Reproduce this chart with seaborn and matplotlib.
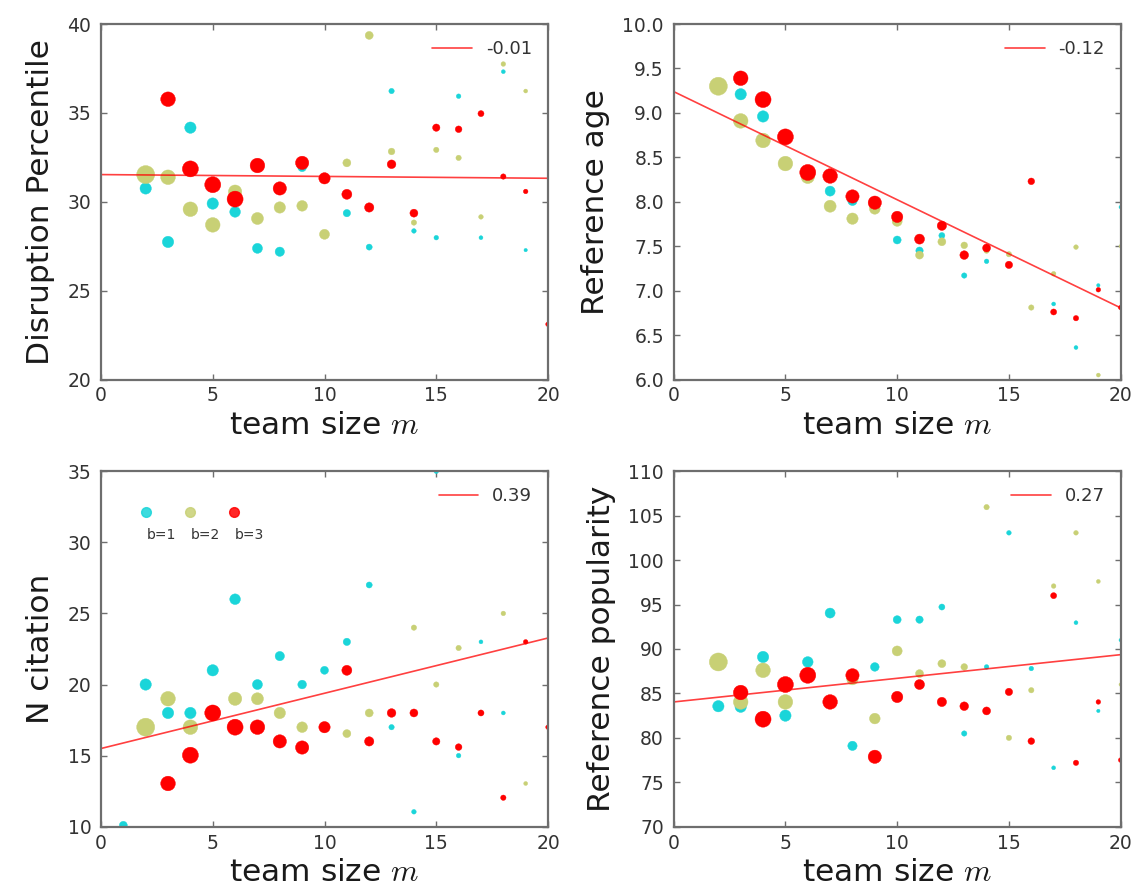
import numpy as np
import pandas as pd
import matplotlib
matplotlib.use("Agg")
import matplotlib.pyplot as plt
from matplotlib.lines import Line2D
import seaborn as sns

nan = np.nan

# ---------------- data ----------------
team_size = list(range(1, 21))
group_labels = ["b=1", "b=2", "b=3"]
group_colors = ["#1ad5d9", "#c8d075", "#ff0000"]

# relative number of papers in each (m, b) group (drives marker area)
n_papers_b1 = [33, 67, 67, 67, 67, 59, 52, 45, 39, 33, 28, 19, 15, 11, 11, 11, 8, 8, 6, 6]
n_papers_b2 = [0, 168, 111, 111, 111, 92, 75, 67, 59, 52, 33, 33, 23, 15, 15, 15, 11, 11, 8, 6]
n_papers_b3 = [0, 0, 111, 133, 133, 133, 111, 92, 92, 67, 52, 45, 39, 33, 28, 23, 19, 15, 11, 11]

disruption_b1 = [nan, 30.75, 27.74, 34.17, 29.9, 29.43, 27.38, 27.19, 31.94, 31.3,
                 29.36, 27.45, 36.23, 28.36, 27.98, 35.94, 27.98, 37.32, 27.28, nan]
disruption_b2 = [nan, 31.53, 31.38, 29.58, 28.70, 30.57, 29.06, 29.68, 29.77, 28.17,
                 32.19, 39.36, 32.83, 28.83, 32.92, 32.47, 29.15, 37.75, 36.23, nan]
disruption_b3 = [nan, nan, 35.77, 31.85, 30.96, 30.15, 32.04, 30.75, 32.19, 31.32,
                 30.42, 29.68, 32.11, 29.36, 34.17, 34.08, 34.96, 31.42, 30.58, 23.11]

ref_age_b1 = [nan, 9.30, 9.21, 8.96, 8.72, 8.30, 8.12, 8.01, 7.95, 7.57,
              7.45, 7.62, 7.17, 7.33, 7.29, nan, 6.85, 6.36, 7.06, 7.94]
ref_age_b2 = [nan, 9.30, 8.91, 8.69, 8.43, 8.28, 7.95, 7.81, 7.92, 7.78,
              7.40, 7.55, 7.51, 7.45, 7.41, 6.81, 7.19, 7.49, 6.05, 7.50]
ref_age_b3 = [nan, nan, 9.39, 9.15, 8.73, 8.33, 8.29, 8.06, 7.99, 7.83,
              7.58, 7.73, 7.40, 7.48, 7.29, 8.23, 6.76, 6.69, 7.01, 6.81]

citation_b1 = [10.1, 20.0, 18.0, 18.0, 21.0, 26.0, 20.0, 22.0, 20.0, 21.0,
               23.0, 27.0, 17.0, 11.05, 35.0, 15.0, 23.0, 18.0, nan, nan]
citation_b2 = [nan, 17.0, 19.0, 17.0, 18.0, 19.0, 19.0, 18.0, 17.0, 17.0,
               16.55, 18.0, 18.0, 24.0, 20.0, 22.57, 18.0, 25.0, 13.04, nan]
citation_b3 = [nan, nan, 13.04, 15.03, 18.0, 17.0, 17.0, 16.0, 15.57, 17.0,
               21.0, 16.0, 18.0, 18.0, 16.0, 15.6, 18.0, 12.04, 23.0, 17.0]

popularity_b1 = [nan, 83.56, 83.5, 89.1, 82.5, 88.54, 94.04, 79.1, 87.98, 93.3,
                 93.3, 94.72, 80.49, 87.98, 103.07, 87.8, 76.63, 92.96, 83.03, 91.0]
popularity_b2 = [nan, 88.54, 84.04, 87.6, 84.04, 87.0, 84.0, 86.6, 82.17, 89.78,
                 87.23, 88.35, 87.98, 105.96, 80.0, 85.36, 97.08, 103.07, 97.6, 86.0]
popularity_b3 = [nan, nan, 85.1, 82.1, 86.0, 87.04, 84.04, 87.04, 77.87, 84.6,
                 86.0, 84.04, 83.56, 83.03, 85.17, 79.63, 96.0, 77.19, 84.04, 77.5]

panel_ylabels = ["Disruption Percentile", "Reference age", "N citation", "Reference popularity"]
panel_series = [
    [disruption_b1, disruption_b2, disruption_b3],
    [ref_age_b1, ref_age_b2, ref_age_b3],
    [citation_b1, citation_b2, citation_b3],
    [popularity_b1, popularity_b2, popularity_b3],
]
panel_ylims = [(20, 40), (6, 10), (10, 35), (70, 110)]
panel_yticks = [np.arange(20, 41, 5), np.arange(6, 10.01, 0.5),
                np.arange(10, 36, 5), np.arange(70, 111, 5)]
panel_yfmt = ["{:.0f}", "{:.1f}", "{:.0f}", "{:.0f}"]
fit_intercept = [31.53, 9.24, 15.50, 84.04]
fit_slope = [-0.0104, -0.1217, 0.3886, 0.2660]
x_ticks = [0, 5, 10, 15, 20]
x_lim = (0, 20)

n_papers = [n_papers_b1, n_papers_b2, n_papers_b3]

# ---------------- style ----------------
sns.set_style("white", {"xtick.direction": "in", "ytick.direction": "in"})
plt.rcParams["font.family"] = ["DejaVu Sans"]
plt.rcParams["mathtext.fontset"] = "cm"

frame_color = "#6e6e6e"

fig, axes = plt.subplots(2, 2, figsize=(11.41, 8.90), dpi=100)
fig.subplots_adjust(left=0.0885, right=0.9822, top=0.973, bottom=0.0711,
                    wspace=0.281, hspace=0.258)

size_lo, size_hi = 0, 168

for k, ax in enumerate(axes.flat):
    rows = []
    for g in range(3):
        for m, v, n in zip(team_size, panel_series[k][g], n_papers[g]):
            rows.append({"m": m, "value": v, "b": group_labels[g], "n": n})
    df = pd.DataFrame(rows)
    sns.scatterplot(data=df, x="m", y="value", hue="b", hue_order=group_labels,
                    palette=group_colors, size="n", sizes=(size_lo, size_hi),
                    size_norm=(size_lo, size_hi), legend=False, alpha=1.0,
                    edgecolor="face", linewidth=0.3, ax=ax)

    ax.set_xlim(*x_lim)
    ax.set_ylim(*panel_ylims[k])
    xfit = np.array(x_lim, dtype=float)
    yfit = fit_intercept[k] + fit_slope[k] * xfit
    sns.lineplot(x=xfit, y=yfit, color="red", linewidth=1.2, alpha=0.75, ax=ax,
                 label=f"{fit_slope[k]:.2f}")

    ax.set_xticks(x_ticks)
    ax.set_xticklabels([str(t) for t in x_ticks])
    ax.set_yticks(panel_yticks[k])
    ax.set_yticklabels([panel_yfmt[k].format(t) for t in panel_yticks[k]])
    ax.tick_params(axis="both", which="major", direction="in", top=True, right=True,
                   bottom=True, left=True, length=4.5, width=1.0, color=frame_color,
                   labelsize=13.5, labelcolor="#333333")
    ax.tick_params(axis="x", pad=5)
    ax.tick_params(axis="y", pad=7)
    for sp in ax.spines.values():
        sp.set_visible(True)
        sp.set_color(frame_color)
        sp.set_linewidth(1.6)
    ax.set_xlabel("team size $m$", fontsize=22.5, labelpad=4, color="#1a1a1a")
    ax.set_ylabel(panel_ylabels[k], fontsize=22.5, labelpad=9, color="#1a1a1a")

    if k == 2:
        handles = [Line2D([], [], linestyle="none", marker="o", markersize=7,
                          markerfacecolor=c, markeredgecolor=c, alpha=0.85,
                          markeredgewidth=1.0) for c in group_colors]
        leg_b = ax.legend(handles=handles, labels=group_labels, loc="upper left",
                          bbox_to_anchor=(0.0846, 0.903), ncol=3, frameon=False,
                          fontsize=10, handlelength=1.0, handletextpad=0.0,
                          columnspacing=0.05, borderaxespad=0.0, borderpad=0.0,
                          labelcolor="#333333")
        for t in leg_b.get_texts():
            t.set_position((-6, -22))
        ax.add_artist(leg_b)

    ax.legend(loc="upper right", frameon=False, fontsize=13, handlelength=2.2,
              handletextpad=0.75, borderaxespad=0.5, borderpad=0.4,
              labelcolor="#333333")

fig.savefig("out.png", dpi=100)
